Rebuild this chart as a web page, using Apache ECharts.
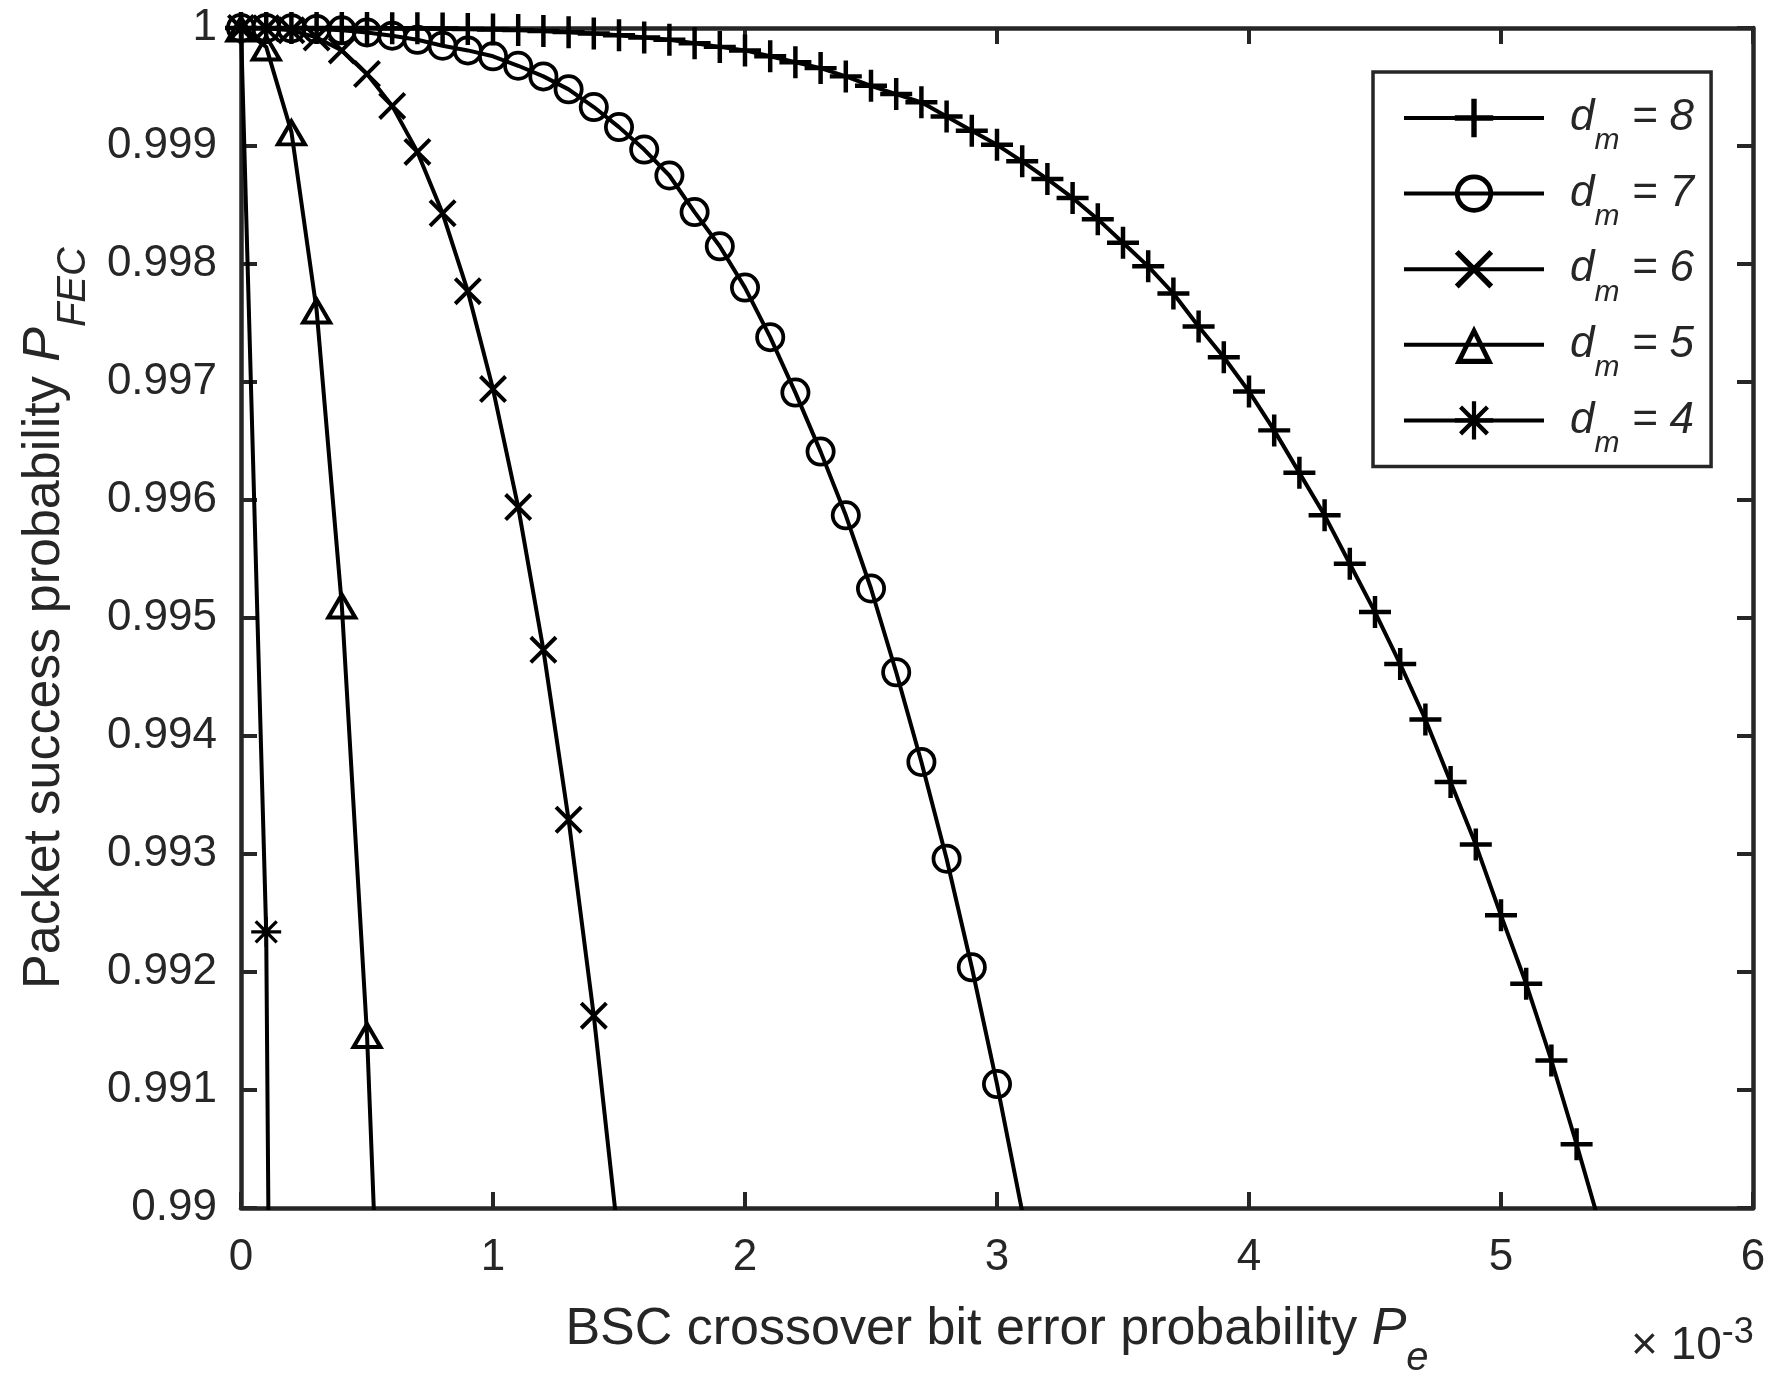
<!DOCTYPE html>
<html>
<head>
<meta charset="utf-8">
<script src="https://cdn.jsdelivr.net/npm/echarts@6/dist/echarts.min.js"></script>
<style>
  html, body { margin: 0; padding: 0; background: #fff; }
  #chart { width: 1784px; height: 1390px; }
</style>
</head>
<body>
<div id="chart"></div>
<script>
// crossover bit error probability Pe, in units of 1e-3
const pe = [0, 0.1, 0.2, 0.3, 0.4, 0.5, 0.6, 0.7, 0.8, 0.9,
  1.0, 1.1, 1.2, 1.3, 1.4, 1.5, 1.6, 1.7, 1.8, 1.9,
  2.0, 2.1, 2.2, 2.3, 2.4, 2.5, 2.6, 2.7, 2.8, 2.9,
  3.0, 3.1, 3.2, 3.3, 3.4, 3.5, 3.6, 3.7, 3.8, 3.9,
  4.0, 4.1, 4.2, 4.3, 4.4, 4.5, 4.6, 4.7, 4.8, 4.9,
  5.0, 5.1, 5.2, 5.3, 5.4];

// packet success probability P_FEC for each minimum distance d_m
const pD8 = [1, 1, 1, 0.9999999, 0.9999997, 0.9999992, 0.9999985, 0.999997, 0.999995, 0.999992,
  0.999988, 0.999982, 0.999975, 0.999965, 0.999953, 0.999938, 0.99992, 0.9999, 0.99987, 0.99984,
  0.99981, 0.99976, 0.99971, 0.99966, 0.99959, 0.99951, 0.99944, 0.99937, 0.99925, 0.99913,
  0.99901, 0.99887, 0.99872, 0.99856, 0.99838, 0.99818, 0.99798, 0.99775, 0.99747, 0.99721,
  0.99692, 0.99659, 0.99623, 0.99587, 0.99546, 0.99505, 0.99461, 0.99414, 0.99361, 0.99308,
  0.99248, 0.9919, 0.99125, 0.99054, 0.9898];
const pD7 = [1, 0.9999997, 0.9999975, 0.999992, 0.99998, 0.999962, 0.999935, 0.9999, 0.99985, 0.99981,
  0.99976, 0.99968, 0.99959, 0.99948, 0.99933, 0.99916, 0.99897, 0.99875, 0.99844, 0.99815,
  0.9978, 0.99738, 0.99691, 0.99641, 0.99587, 0.99525, 0.99454, 0.99378, 0.99296, 0.99204,
  0.99105, 0.98997];
const pD6 = [1, 0.999997, 0.99998, 0.99992, 0.99981, 0.99961, 0.99934, 0.99895, 0.99843, 0.99777,
  0.99694, 0.99594, 0.99473, 0.99329, 0.99163, 0.98969];
const pD5 = [1, 0.99984, 0.99912, 0.99761, 0.99511, 0.99147, 0.986];
const pD4 = [1, 0.99234, 0.965];

const dmNames = ['8', '7', '6', '5', '4'];

const FONT = '"Liberation Sans", Arial, Helvetica, sans-serif';
const TXT = '#262626';

// matlab style markers
const SYM_PLUS = 'path://M8.6,0 L11.4,0 L11.4,20 L8.6,20 Z M0,11.4 L0,8.6 L20,8.6 L20,11.4 Z';
const SYM_RING = 'path://M0,10 A10,10 0 1,1 20,10 A10,10 0 1,1 0,10 Z M2.5,10 A7.5,7.5 0 1,0 17.5,10 A7.5,7.5 0 1,0 2.5,10 Z';
const SYM_X = 'path://M0,2 L2,0 L20,18 L18,20 Z M18,0 L20,2 L2,20 L0,18 Z';
const SYM_TRI = 'path://M10,0 L20,17 L0,17 Z M10,4.6 L4.2,14.7 L15.8,14.7 Z';
const SYM_STAR = 'path://M8.9,0 L11.1,0 L11.1,20 L8.9,20 Z M0,11.1 L0,8.9 L20,8.9 L20,11.1 Z M2.2,3.8 L3.8,2.2 L17.8,16.2 L16.2,17.8 Z M16.2,2.2 L17.8,3.8 L3.8,17.8 L2.2,16.2 Z';

function mkSeries(dm, vals, symbol, size) {
  return {
    name: dm,
    type: 'line',
    data: vals.map((v, i) => [pe[i], v]),
    symbol: symbol,
    symbolSize: size,
    showAllSymbol: true,
    clip: true,
    lineStyle: { color: '#000', width: 4 },
    itemStyle: { color: '#000', borderWidth: 0 },
    emphasis: { disabled: true }
  };
}

const axisLine = { show: true, onZero: false, lineStyle: { color: TXT, width: 4.5 } };
const axisTick = { show: true, inside: true, length: 16, lineStyle: { color: TXT, width: 4 } };

const nameRich = {
  a: { fontSize: 52, lineHeight: 98, color: TXT, fontFamily: FONT, verticalAlign: 'middle' },
  p: { fontSize: 52, lineHeight: 98, color: TXT, fontFamily: FONT, fontStyle: 'italic', verticalAlign: 'middle' },
  s: { fontSize: 40, lineHeight: 40, color: TXT, fontFamily: FONT, fontStyle: 'italic', verticalAlign: 'bottom' }
};

let chart = echarts.init(document.getElementById('chart'));
let option = {
  animation: false,
  backgroundColor: '#fff',
  textStyle: { fontFamily: FONT },
  grid: { left: 241, right: 31, top: 28, bottom: 182, containLabel: false, outerBoundsMode: 'none' },
  xAxis: [
    {
      type: 'value', position: 'bottom', min: 0, max: 6, interval: 1,
      axisLine: axisLine, axisTick: axisTick, splitLine: { show: false },
      axisLabel: { color: TXT, fontSize: 44, fontFamily: FONT, margin: 28 },
      name: '{a|BSC crossover bit error probability }{p|P}{s|e}',
      nameLocation: 'middle', nameGap: 73,
      nameTextStyle: { color: TXT, fontFamily: FONT, rich: nameRich }
    },
    {
      type: 'value', position: 'top', min: 0, max: 6, interval: 1,
      axisLine: axisLine, axisTick: axisTick, splitLine: { show: false },
      axisLabel: { show: false }
    }
  ],
  yAxis: [
    {
      type: 'value', position: 'left', min: 0.99, max: 1, interval: 0.001,
      axisLine: axisLine, axisTick: axisTick, splitLine: { show: false },
      axisLabel: { color: TXT, fontSize: 44, fontFamily: FONT, margin: 24 },
      name: '{a|Packet success probability }{p|P}{s|FEC}',
      nameLocation: 'middle', nameGap: 147, nameRotate: 90,
      nameTextStyle: { color: TXT, fontFamily: FONT, rich: nameRich }
    },
    {
      type: 'value', position: 'right', min: 0.99, max: 1, interval: 0.001,
      axisLine: axisLine, axisTick: axisTick, splitLine: { show: false },
      axisLabel: { show: false }
    }
  ],
  legend: {
    orient: 'vertical', left: 1373, top: 72,
    padding: [24, 17, 8, 29],
    borderColor: TXT, borderWidth: 3.5, backgroundColor: '#fff',
    itemWidth: 140, itemHeight: 48, itemGap: 15.6,
    selectedMode: false,
    data: dmNames,
    lineStyle: { color: '#000', width: 4 },
    formatter: name => '{sp|}{d|d}{m|m}{n| = ' + name + '}',
    textStyle: {
      color: TXT, fontFamily: FONT,
      rich: {
        sp: { width: 21, lineHeight: 76 },
        d: { fontSize: 44, fontStyle: 'italic', lineHeight: 76, color: TXT, fontFamily: FONT, verticalAlign: 'middle' },
        m: { fontSize: 30, fontStyle: 'italic', lineHeight: 20, color: TXT, fontFamily: FONT, verticalAlign: 'bottom' },
        n: { fontSize: 44, fontStyle: 'italic', lineHeight: 76, color: TXT, fontFamily: FONT, verticalAlign: 'middle' }
      }
    }
  },
  graphic: [
    {
      type: 'text', left: 1631, top: 1315,
      style: {
        text: '{a|× 10}{b|-3}',
        fill: TXT,
        rich: {
          a: { fontSize: 46, lineHeight: 62, fill: TXT, fontFamily: FONT, verticalAlign: 'middle' },
          b: { fontSize: 36, lineHeight: 2, fill: TXT, fontFamily: FONT, verticalAlign: 'top' }
        }
      }
    }
  ],
  series: [
    mkSeries('8', pD8, SYM_PLUS, 32),
    mkSeries('7', pD7, SYM_RING, 30),
    mkSeries('6', pD6, SYM_X, 28),
    mkSeries('5', pD5, SYM_TRI, [34, 29]),
    mkSeries('4', pD4, SYM_STAR, 30)
  ]
};
chart.setOption(option);
window.addEventListener('resize', () => chart.resize(), false);
</script>
</body>
</html>
